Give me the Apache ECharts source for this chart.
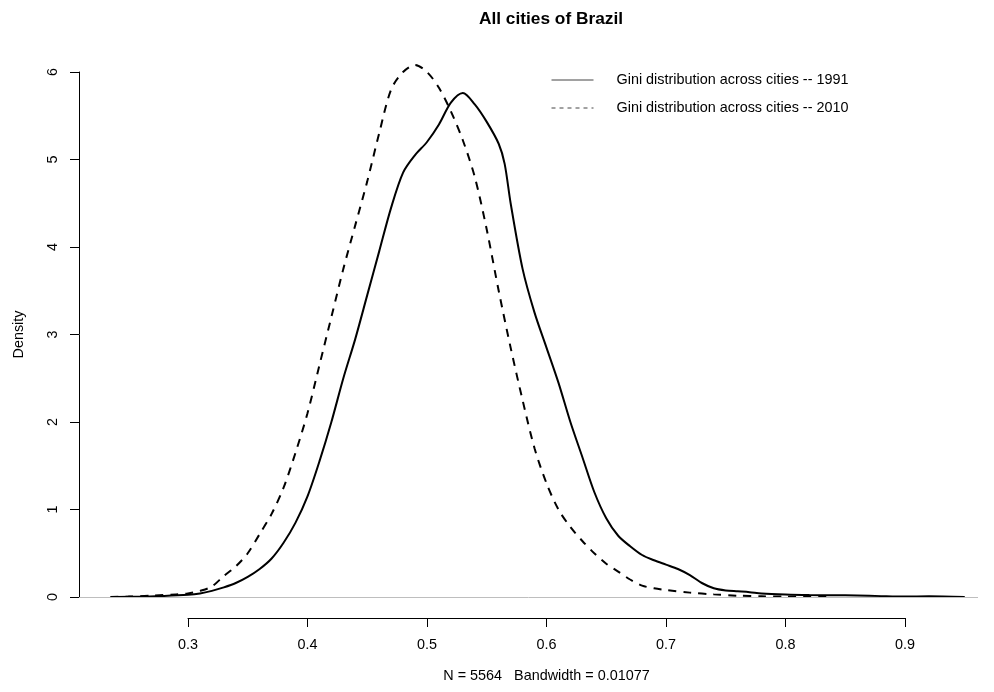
<!DOCTYPE html>
<html>
<head>
<meta charset="utf-8">
<script src="https://cdn.jsdelivr.net/npm/echarts@6/dist/echarts.min.js"></script>
<style>
  html, body { margin: 0; padding: 0; background: #fff; }
  #chart { width: 994px; height: 692px; }
</style>
</head>
<body>
<div id="chart"></div>
<script>
// density estimates (gini, density)
const gini1991 = [0.24, 0.26, 0.28, 0.30, 0.31, 0.32, 0.33, 0.34, 0.35, 0.36, 0.37, 0.38, 0.39, 0.40, 0.41, 0.42, 0.43, 0.44, 0.45, 0.46, 0.47, 0.48, 0.49, 0.50, 0.51, 0.52, 0.53, 0.54, 0.55, 0.56, 0.565, 0.57, 0.58, 0.59, 0.60, 0.61, 0.62, 0.63, 0.64, 0.65, 0.66, 0.67, 0.68, 0.69, 0.70, 0.71, 0.72, 0.73, 0.74, 0.75, 0.76, 0.77, 0.78, 0.80, 0.82, 0.84, 0.86, 0.88, 0.90, 0.92, 0.95];
const dens1991 = [0.0, 0.005, 0.012, 0.025, 0.04, 0.07, 0.11, 0.16, 0.23, 0.32, 0.44, 0.62, 0.85, 1.15, 1.55, 2.0, 2.5, 2.95, 3.45, 3.95, 4.45, 4.85, 5.05, 5.2, 5.4, 5.65, 5.76, 5.63, 5.43, 5.18, 4.95, 4.5, 3.75, 3.25, 2.85, 2.45, 2.0, 1.6, 1.2, 0.9, 0.7, 0.58, 0.48, 0.42, 0.37, 0.32, 0.25, 0.16, 0.1, 0.075, 0.065, 0.055, 0.04, 0.028, 0.022, 0.02, 0.017, 0.01, 0.005, 0.008, 0.0];

const gini2010 = [0.235, 0.25, 0.27, 0.29, 0.30, 0.31, 0.32, 0.33, 0.34, 0.35, 0.36, 0.37, 0.38, 0.39, 0.40, 0.41, 0.42, 0.43, 0.44, 0.45, 0.46, 0.47, 0.48, 0.49, 0.50, 0.51, 0.52, 0.53, 0.54, 0.55, 0.56, 0.57, 0.58, 0.59, 0.60, 0.61, 0.62, 0.63, 0.64, 0.65, 0.66, 0.67, 0.68, 0.69, 0.70, 0.72, 0.74, 0.76, 0.78, 0.80, 0.835];
const dens2010 = [0.0, 0.005, 0.015, 0.03, 0.04, 0.07, 0.12, 0.24, 0.35, 0.5, 0.72, 0.95, 1.25, 1.65, 2.1, 2.65, 3.2, 3.75, 4.25, 4.75, 5.3, 5.8, 6.0, 6.08, 6.0, 5.82, 5.55, 5.22, 4.8, 4.2, 3.5, 2.85, 2.25, 1.7, 1.3, 1.0, 0.8, 0.64, 0.5, 0.38, 0.29, 0.2, 0.13, 0.1, 0.08, 0.05, 0.03, 0.015, 0.008, 0.004, 0.0];

const xTicks = [0.3, 0.9];   // labelled range of the x axis
const yTicks = [0, 6];       // labelled range of the y axis

const name1991 = "Gini distribution across cities -- 1991";
const name2010 = "Gini distribution across cities -- 2010";

const pairs = (xs, ys) => xs.map((x, i) => [x, ys[i]]);

const chart = echarts.init(document.getElementById("chart"));
const font = "Liberation Sans, Arial, Helvetica, sans-serif";
const fs = 14.4;

const option = {
  animation: false,
  textStyle: { fontFamily: font, color: "#000" },
  title: {
    text: "All cities of Brazil",
    left: 546,
    top: 6,
    textAlign: "center",
    textStyle: { fontFamily: font, fontSize: 17.3, fontWeight: "bold", color: "#000" },
  },
  legend: {
    orient: "vertical",
    left: 551,
    top: 73,
    padding: 0,
    itemWidth: 42,
    itemHeight: 14,
    itemGap: 14,
    itemStyle: { opacity: 0 },
    textStyle: { fontFamily: font, fontSize: fs, color: "#000", padding: [0, 0, 0, 18] },
    data: [
      { name: name1991, lineStyle: { width: 1, color: "#444", type: "solid" } },
      { name: name2010, lineStyle: { width: 1, color: "#444", type: [4, 4] } },
    ],
  },
  grid: [
    { left: 79, right: 16, top: 44, bottom: 74 },   // plotting region
    { left: 188, right: 89, top: 44, bottom: 74 },  // x axis
    { left: 79, right: 16, top: 72, bottom: 95 },   // y axis
  ],
  xAxis: [
    { gridIndex: 0, type: "value", min: 0.2088, max: 0.9611, show: false },
    {
      gridIndex: 1, type: "value", min: xTicks[0], max: xTicks[1], interval: 0.1,
      name: "N = 5564   Bandwidth = 0.01077",
      nameLocation: "middle", nameGap: 51,
      nameTextStyle: { fontFamily: font, fontSize: fs, color: "#000" },
      axisLine: { show: true, lineStyle: { color: "#000", width: 1 } },
      axisTick: { show: true, length: 9, lineStyle: { color: "#000" } },
      axisLabel: { margin: 20, fontSize: fs, color: "#000", fontFamily: font,
        formatter: v => v.toFixed(1) },
      splitLine: { show: false },
    },
    { gridIndex: 2, type: "value", show: false },
  ],
  yAxis: [
    { gridIndex: 0, type: "value", min: -0.24, max: 6.32, show: false },
    { gridIndex: 1, type: "value", show: false },
    {
      gridIndex: 2, type: "value", min: yTicks[0], max: yTicks[1], interval: 1,
      name: "Density",
      nameLocation: "middle", nameGap: 53,
      nameTextStyle: { fontFamily: font, fontSize: fs, color: "#000" },
      axisLine: { show: true, lineStyle: { color: "#000", width: 1 } },
      axisTick: { show: true, length: 9, lineStyle: { color: "#000" } },
      axisLabel: { margin: 19, rotate: 90, fontSize: fs, color: "#000", fontFamily: font },
      splitLine: { show: false },
    },
  ],
  series: [
    {
      name: name1991,
      type: "line",
      xAxisIndex: 0, yAxisIndex: 0,
      data: pairs(gini1991, dens1991),
      smooth: 0.3,
      showSymbol: false,
      color: "#000",
      lineStyle: { color: "#000", width: 2 },
      markLine: {
        silent: true,
        symbol: "none",
        label: { show: false },
        lineStyle: { color: "#bebebe", width: 1, type: "solid" },
        data: [{ yAxis: 0 }],
      },
    },
    {
      name: name2010,
      type: "line",
      xAxisIndex: 0, yAxisIndex: 0,
      data: pairs(gini2010, dens2010),
      smooth: 0.3,
      showSymbol: false,
      color: "#000",
      lineStyle: { color: "#000", width: 2, type: [8, 7] },
    },
  ],
};

chart.setOption(option);
</script>
</body>
</html>
